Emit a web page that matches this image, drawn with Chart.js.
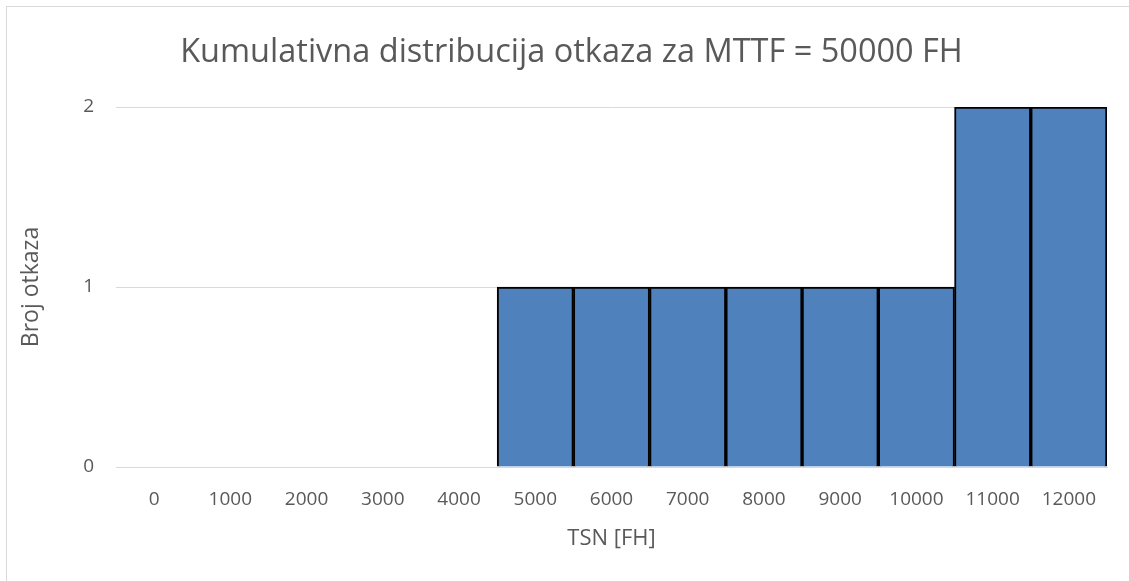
<!DOCTYPE html>
<html lang="hr">
<head>
    <meta charset="UTF-8">
    <title>Kumulativna distribucija otkaza</title>
    <script src="https://cdn.jsdelivr.net/npm/chart.js"></script>
    <style>
        html, body {
            margin: 0;
            padding: 0;
            background: #ffffff;
            overflow: hidden;
        }
        #frame {
            position: absolute;
            left: 6px;
            top: 6px;
            width: 1200px;
            height: 700px;
            border: 1px solid #d9d9d9;
        }
        #chartContainer {
            position: absolute;
            left: 0;
            top: 0;
            width: 1129px;
            height: 581px;
        }
    </style>
</head>
<body>

<div id="frame"></div>
<div id="chartContainer">
    <canvas id="histChart"></canvas>
</div>

<script>
    // TSN categories (FH) and cumulative failure counts
    const tsnLabels = ['0', '1000', '2000', '3000', '4000', '5000', '6000',
                       '7000', '8000', '9000', '10000', '11000', '12000'];
    const failureCounts = [0, 0, 0, 0, 0, 1, 1, 1, 1, 1, 1, 2, 2];
    const yTicks = [0, 1, 2];

    const textColor = '#595959';
    const fontName = "'Open Sans', sans-serif";

    const ctx = document.getElementById('histChart').getContext('2d');

    const histChart = new Chart(ctx, {
        type: 'bar',
        data: {
            labels: tsnLabels,
            datasets: [{
                label: 'Broj otkaza',
                data: failureCounts,
                backgroundColor: '#4f81bd',
                borderColor: '#000000',
                borderWidth: 2,
                barPercentage: 1,
                categoryPercentage: 1
            }]
        },
        options: {
            responsive: true,
            maintainAspectRatio: false,
            animation: false,
            layout: {
                padding: { left: 14, right: 0, top: 0, bottom: 0 }
            },
            plugins: {
                legend: { display: false },
                tooltip: { enabled: false },
                title: {
                    display: true,
                    text: 'Kumulativna distribucija otkaza za MTTF = 50000 FH',
                    color: textColor,
                    font: { family: fontName, size: 32.5, weight: 'normal' },
                    padding: { top: 33, bottom: 35 }
                }
            },
            scales: {
                x: {
                    grid: { display: false, drawTicks: false },
                    border: { display: true, color: '#d9d9d9', width: 1 },
                    ticks: {
                        color: textColor,
                        font: { family: fontName, size: 19 },
                        padding: 21,
                        maxRotation: 0
                    },
                    title: {
                        display: true,
                        text: 'TSN [FH]',
                        color: textColor,
                        font: { family: fontName, size: 22 },
                        padding: { top: 29, bottom: 29 }
                    },
                    afterFit: (scale) => { scale.height = 114; }
                },
                y: {
                    min: 0,
                    max: 2,
                    afterBuildTicks: (scale) => {
                        scale.ticks = yTicks.map(v => ({ value: v }));
                    },
                    grid: { color: '#d9d9d9', lineWidth: 1, drawTicks: false },
                    border: { display: false },
                    ticks: {
                        color: textColor,
                        font: { family: fontName, size: 19 },
                        padding: 22
                    },
                    title: {
                        display: true,
                        text: 'Broj otkaza',
                        color: textColor,
                        font: { family: fontName, size: 23 },
                        padding: { top: 4, bottom: 4 }
                    },
                    afterFit: (scale) => { scale.width = 102; }
                },
                // empty right axis, only reserves the right margin
                yRight: {
                    position: 'right',
                    display: true,
                    min: 0,
                    max: 2,
                    grid: { display: false, drawTicks: false },
                    border: { display: false },
                    ticks: { display: false },
                    afterFit: (scale) => { scale.width = 22; }
                }
            }
        }
    });
</script>

</body>
</html>
